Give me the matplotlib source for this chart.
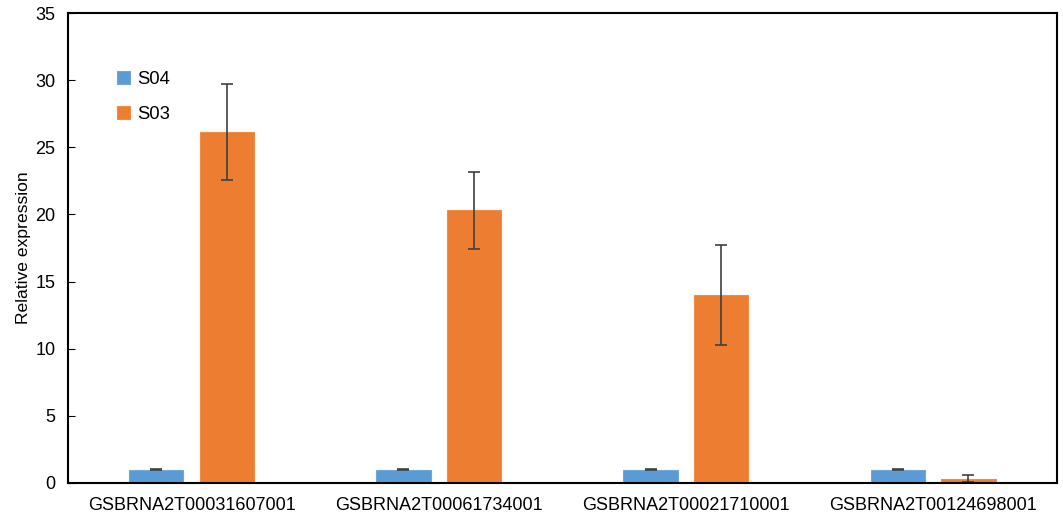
import matplotlib.pyplot as plt
import numpy as np

plt.rcParams['font.family'] = ['Liberation Sans', 'DejaVu Sans']

genes = ['GSBRNA2T00031607001', 'GSBRNA2T00061734001',
         'GSBRNA2T00021710001', 'GSBRNA2T00124698001']
s04 = [1.0, 1.0, 1.0, 1.0]
s04_err = [0.03, 0.03, 0.03, 0.03]
s03 = [26.15, 20.3, 14.0, 0.32]
s03_err = [3.6, 2.85, 3.7, 0.25]

fig = plt.figure(figsize=(10.63, 5.21), dpi=100)
ax = fig.add_axes([0.064, 0.073, 0.930, 0.902])

x = np.arange(len(genes))
w = 0.22
off = 0.143
ekw = dict(ecolor='#404040', elinewidth=1.2, capsize=4, capthick=1.2)
ax.bar(x - off, s04, w, yerr=s04_err, color='#5B9BD5', edgecolor='#6FA8DC',
       linewidth=0.8, label='S04', error_kw=ekw)
ax.bar(x + off, s03, w, yerr=s03_err, color='#ED7D31', edgecolor='#F28C45',
       linewidth=0.8, label='S03', error_kw=ekw)

ax.set_xlim(-0.5, 3.5)
ax.set_ylim(0, 35)
ax.set_yticks(np.arange(0, 36, 5))
ax.set_xticks(x)
ax.set_xticklabels(genes, fontsize=13)
ax.tick_params(axis='x', length=0, pad=10)
ax.tick_params(axis='y', direction='in', length=5, labelsize=13, pad=9)
ax.set_ylabel('Relative expression', fontsize=12.6, labelpad=3)
for s in ax.spines.values():
    s.set_linewidth(1.5)
    s.set_color('black')

ax.legend(loc='upper left', bbox_to_anchor=(0.033, 0.913), frameon=False,
          fontsize=13.3, handlelength=0.7, handleheight=0.7, handletextpad=0.4,
          labelspacing=1.0)

fig.savefig('out.png', dpi=100)
